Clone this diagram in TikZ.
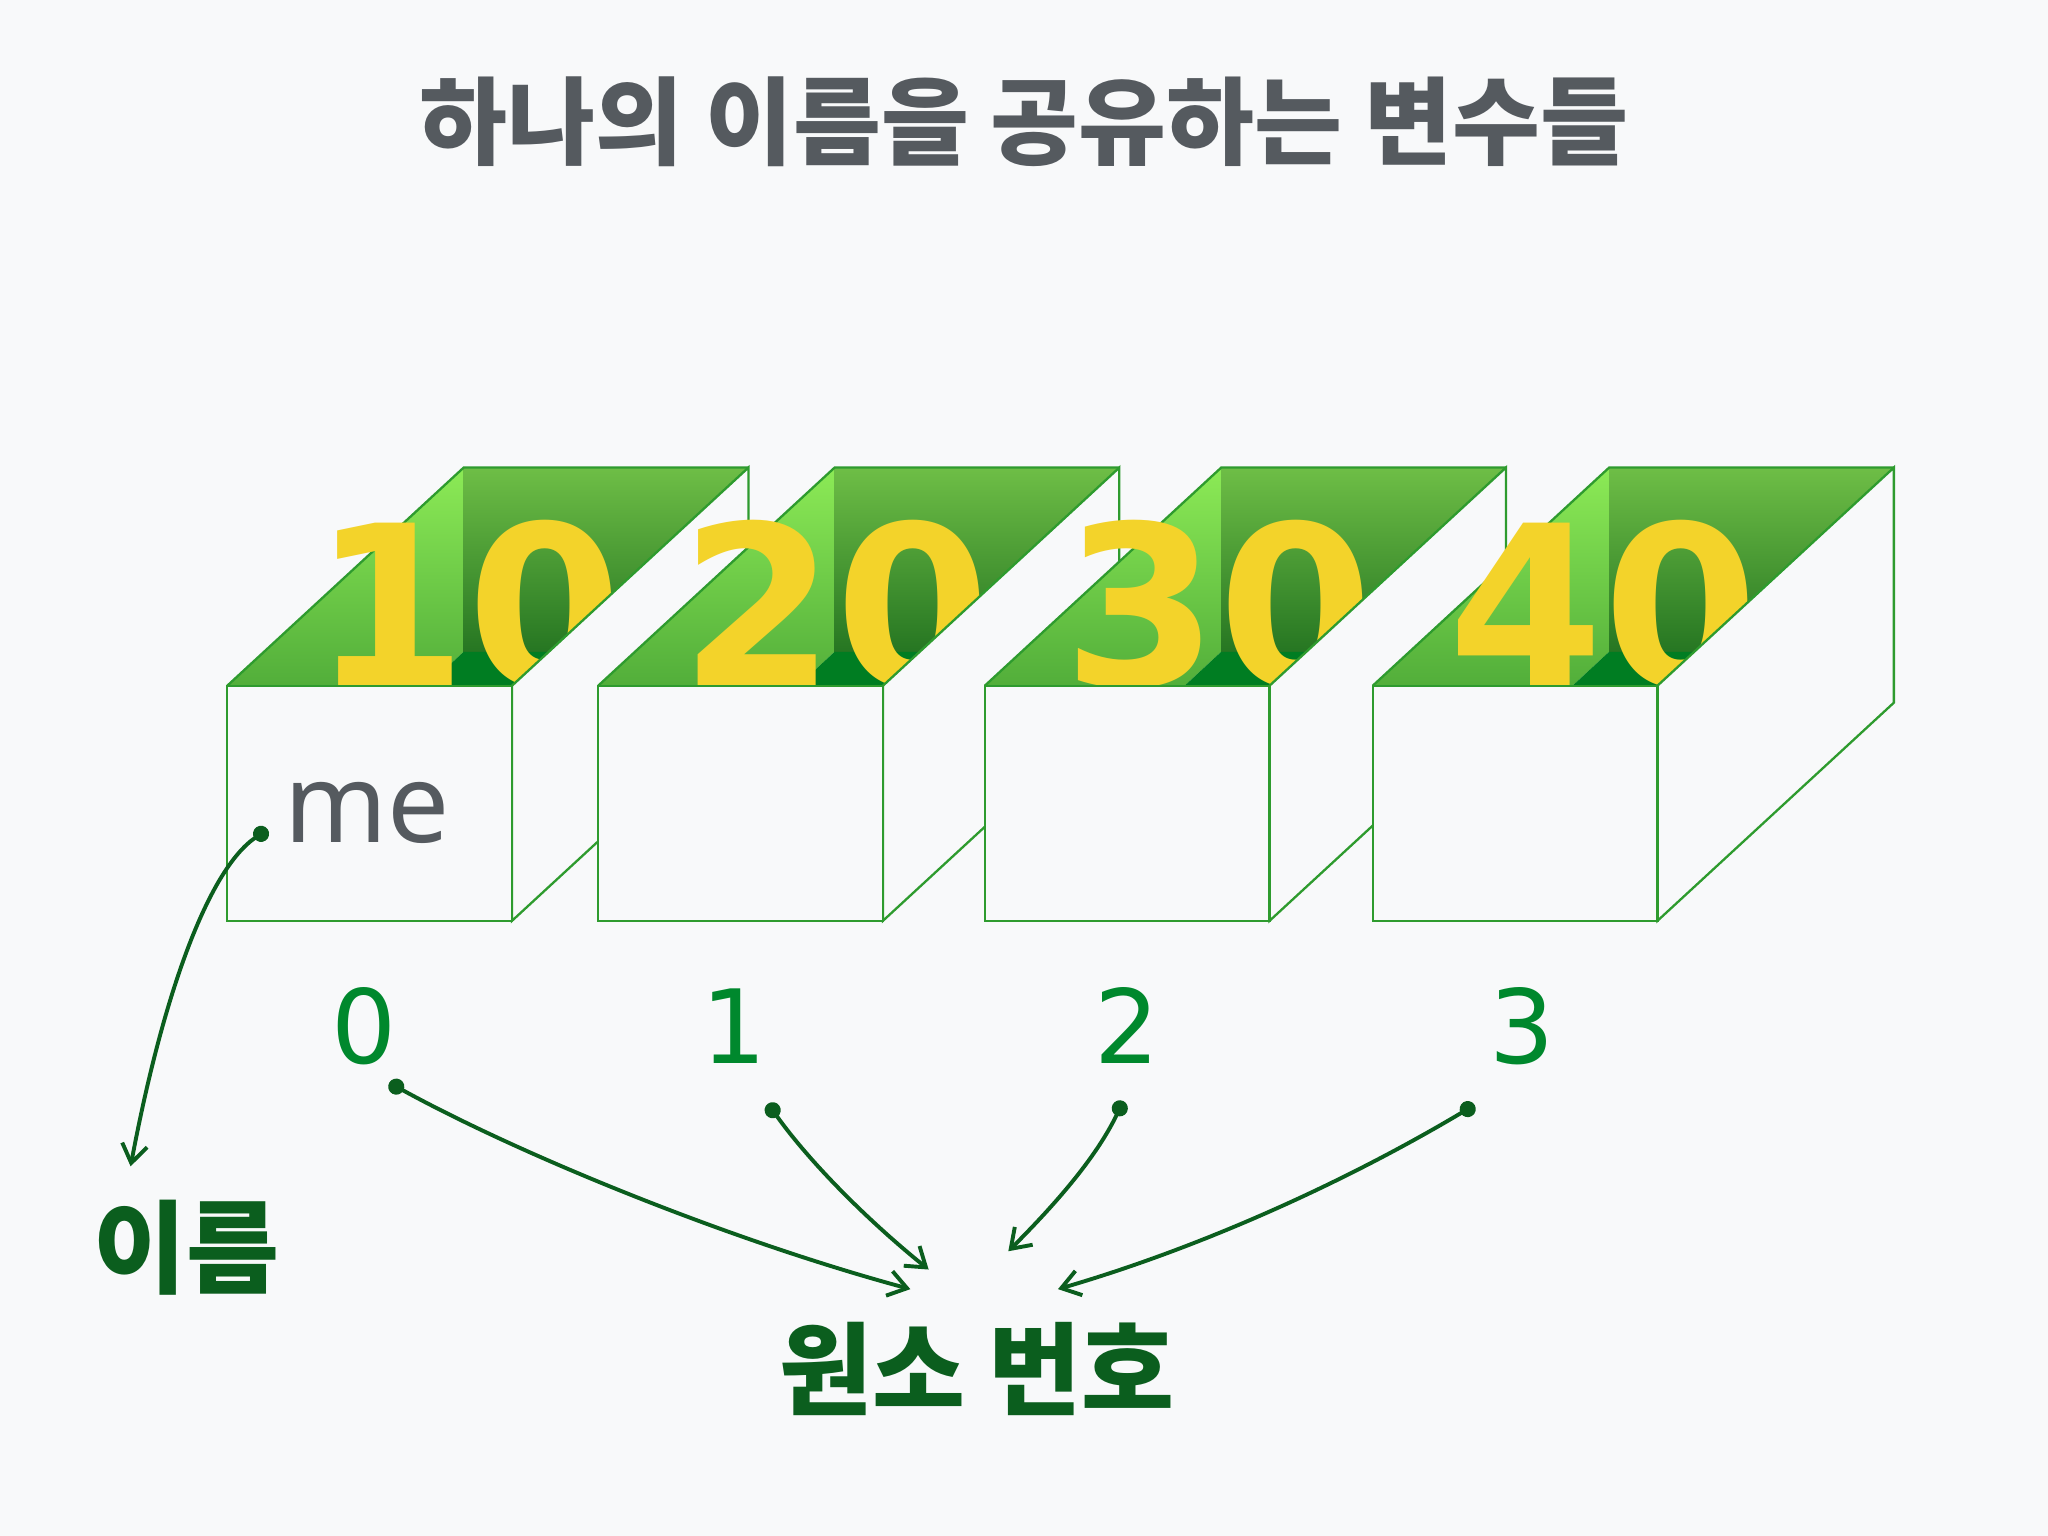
\documentclass[tikz,border=0pt]{standalone}
\usepackage{fontspec}
\setmainfont{Noto Sans}
\newfontfamily\kofont{Noto Sans CJK KR}
\newfontfamily\numfont{DejaVu Sans}
\usetikzlibrary{arrows.meta}

\begin{document}
\begin{tikzpicture}[x=0.01cm, y=-0.01cm,
        boxline/.style={draw=boxgreen, line width=0.5pt},
        bignum/.style={anchor=base, inner sep=0pt, text=numyellow, font=\numfont\bfseries\fontsize{48.5pt}{56pt}\selectfont},
        idxnum/.style={anchor=base, inner sep=0pt, text=idxgreen, font=\numfont\fontsize{22.3pt}{27pt}\selectfont},
        kolabel/.style={inner sep=0pt, text=labelgreen, font=\kofont\bfseries\fontsize{22pt}{26pt}\selectfont},
        pointer/.style={draw=labelgreen, line width=0.85pt, {Circle[length=3.5pt]}-{Straight Barb[length=4pt,width=5.5pt]}}]
        \definecolor{bgcolor}{RGB}{248,249,250}
        \definecolor{titlegray}{RGB}{85,90,95}
        \definecolor{boxgreen}{RGB}{46,155,46}
        \definecolor{numyellow}{RGB}{243,211,42}
        \definecolor{idxgreen}{RGB}{0,136,45}
        \definecolor{labelgreen}{RGB}{11,94,30}
        \definecolor{wallhi}{RGB}{140,234,86}
        \definecolor{walllo}{RGB}{82,174,58}
        \definecolor{backhi}{RGB}{110,190,70}
        \definecolor{backlo}{RGB}{38,118,34}
        \definecolor{floorgreen}{RGB}{0,125,34}

        \fill[bgcolor] (0,0) rectangle (1568,1176);

        % Title
        \node[text=titlegray, font=\kofont\bfseries\fontsize{20.8pt}{24pt}\selectfont] (title) at (784,93) {하나의 이름을 공유하는 변수들};

        % Box 0
        \shade[top color=wallhi, bottom color=walllo] (174,525) -- (355,358) -- (355,499) -- (327,525) -- cycle;
        \shade[top color=backhi, bottom color=backlo] (355,358) -- (573,358) -- (420,499) -- (355,499) -- cycle;
        \fill[floorgreen] (327,525) -- (355,499) -- (420,499) -- (392,525) -- cycle;
        \draw[boxline] (174,525) -- (355,358) -- (573,358);
        \node[bignum] (v0) at (358,525) {10};
        \draw[boxline, fill=bgcolor] (392,525) -- (573,358) -- (573,538) -- (392,705) -- cycle;
        \draw[boxline, fill=bgcolor] (174,525) rectangle (392,705);
        \node[anchor=base, inner sep=0pt, text=titlegray, font=\fontsize{24pt}{28pt}\selectfont] (name) at (281,645) {me};

        % Box 1
        \shade[top color=wallhi, bottom color=walllo] (458,525) -- (639,358) -- (639,499) -- (611,525) -- cycle;
        \shade[top color=backhi, bottom color=backlo] (639,358) -- (857,358) -- (704,499) -- (639,499) -- cycle;
        \fill[floorgreen] (611,525) -- (639,499) -- (704,499) -- (676,525) -- cycle;
        \draw[boxline] (458,525) -- (639,358) -- (857,358);
        \node[bignum] (v1) at (640,525) {20};
        \draw[boxline, fill=bgcolor] (676,525) -- (857,358) -- (857,538) -- (676,705) -- cycle;
        \draw[boxline, fill=bgcolor] (458,525) rectangle (676,705);

        % Box 2
        \shade[top color=wallhi, bottom color=walllo] (754,525) -- (935,358) -- (935,499) -- (907,525) -- cycle;
        \shade[top color=backhi, bottom color=backlo] (935,358) -- (1153,358) -- (1000,499) -- (935,499) -- cycle;
        \fill[floorgreen] (907,525) -- (935,499) -- (1000,499) -- (972,525) -- cycle;
        \draw[boxline] (754,525) -- (935,358) -- (1153,358);
        \node[bignum] (v2) at (933,525) {30};
        \draw[boxline, fill=bgcolor] (972,525) -- (1153,358) -- (1153,538) -- (972,705) -- cycle;
        \draw[boxline, fill=bgcolor] (754,525) rectangle (972,705);

        % Box 3
        \shade[top color=wallhi, bottom color=walllo] (1051,525) -- (1232,358) -- (1232,499) -- (1204,525) -- cycle;
        \shade[top color=backhi, bottom color=backlo] (1232,358) -- (1450,358) -- (1297,499) -- (1232,499) -- cycle;
        \fill[floorgreen] (1204,525) -- (1232,499) -- (1297,499) -- (1269,525) -- cycle;
        \draw[boxline] (1051,525) -- (1232,358) -- (1450,358);
        \node[bignum] (v3) at (1228,525) {40};
        \draw[boxline, fill=bgcolor] (1269,525) -- (1450,358) -- (1450,538) -- (1269,705) -- cycle;
        \draw[boxline, fill=bgcolor] (1051,525) rectangle (1269,705);

        % Index numbers and labels
        \node[idxnum] (i0) at (279,814) {0};
        \node[idxnum] (i1) at (562,814) {1};
        \node[idxnum] (i2) at (863,814) {2};
        \node[idxnum] (i3) at (1165,814) {3};
        \node[kolabel] (lname) at (143,955) {이름};
        \node[kolabel] (lindex) at (748,1048) {원소 번호};

        % Pointers
        \coordinate (dme) at (205,635);
        \coordinate (ename) at (100,893);
        \coordinate (d0) at (298,829);
        \coordinate (e0) at (697,987);
        \coordinate (d1) at (588,845);
        \coordinate (e1) at (711,972);
        \coordinate (d2) at (860,843);
        \coordinate (e2) at (772,958);
        \coordinate (d3) at (1129,846);
        \coordinate (e3) at (810,987);
        \draw[pointer] (dme) .. controls (160,665) and (125,760) .. (ename);
        \draw[pointer] (d0) .. controls (400,885) and (560,950) .. (e0);
        \draw[pointer] (d1) .. controls (620,890) and (665,935) .. (e1);
        \draw[pointer] (d2) .. controls (840,885) and (810,920) .. (e2);
        \draw[pointer] (d3) .. controls (1030,905) and (920,955) .. (e3);
    \end{tikzpicture}
\end{document}
